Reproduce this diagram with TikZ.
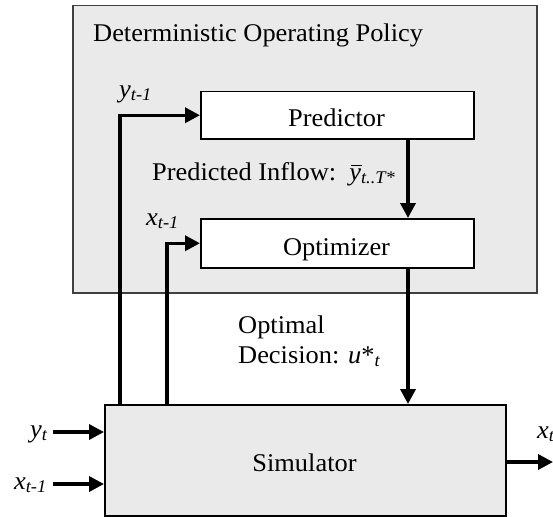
\documentclass[tikz,border=0pt]{standalone}
\usepackage{fontspec}
\setmainfont[FakeStretch=1.035]{Liberation Serif}
\usetikzlibrary{arrows.meta,calc}
\definecolor{panel}{HTML}{EAEAEA}
\newcommand\ybarsym{\makebox[0pt][l]{\hspace{0.08em}\rule[0.55em]{0.42em}{0.05em}}\textit{y}}
\begin{document}
\begin{tikzpicture}[x=1pt,y=-1pt,
  font=\fontsize{25.5}{30}\selectfont,
  panelbox/.style={draw=black!75, line width=1.5pt, fill=panel, inner sep=0pt, anchor=north west},
  whitebox/.style={draw=black, line width=1.5pt, fill=white, inner sep=0pt, anchor=north west},
  flow/.style={line width=3.5pt, -{Triangle[length=15pt,width=15pt]}},
  txt/.style={inner sep=0pt, anchor=base west},
  ctxt/.style={inner sep=0pt, anchor=base},
  rtxt/.style={inner sep=0pt, anchor=base east},
]
\useasboundingbox (0,0) rectangle (553,516);
% boxes
\node[panelbox, minimum width=464pt, minimum height=287pt] (policy) at (72,5) {};
\node[whitebox, minimum width=273pt, minimum height=47pt] (pred) at (200,91) {};
\node[whitebox, minimum width=273pt, minimum height=49pt] (opt) at (200,218) {};
\node[panelbox, draw=black, minimum width=401pt, minimum height=111pt] (sim) at (104,404) {};
% box texts
\node[txt] (title) at (93,42) {Deterministic Operating Policy};
\node[ctxt] (predtxt) at (336.5,126) {Predictor};
\node[ctxt] (opttxt) at (336.5,255) {Optimizer};
\node[ctxt] (simtxt) at (304.5,471) {Simulator};
% connectors
\draw[flow] ($(sim.north west)+(16,0)$) |- (pred.west);
\draw[flow] ($(sim.north west)+(63,0)$) |- (opt.west);
\draw[flow] ($(pred.south west)+(208,0)$) -- ($(opt.north west)+(208,0)$);
\draw[flow] ($(opt.south west)+(208,0)$) -- ($(sim.north west)+(304,0)$);
\coordinate (yin) at (53,432);
\coordinate (xin) at (53,484);
\coordinate (xout) at (553,462);
\draw[flow] (yin) -- (yin -| sim.west);
\draw[flow] (xin) -- (xin -| sim.west);
\draw[flow] (sim.east |- xout) -- (xout);
% labels
\node[txt] (lyprev) at (119,97) {\textit{y}\textsubscript{\textit{t-1}}};
\node[txt] (lxprev) at (146,225) {\textit{x}\textsubscript{\textit{t-1}}};
\node[txt] (lpred) at (152,180) {Predicted Inflow:\ \ \ybarsym\textsubscript{\textit{t..T*}}};
\node[txt] (lopt1) at (238,333) {Optimal};
\node[txt] (lopt2) at (238,363) {Decision: \textit{u}*\textsubscript{\textit{t}}};
\node[rtxt] (lyin) at (48,437) {\textit{y}\textsubscript{\textit{t}}};
\node[rtxt] (lxin) at (47,489) {\textit{x}\textsubscript{\textit{t-1}}};
\node[txt] (lxout) at (537,438) {\textit{x}\textsubscript{\textit{t}}};
\end{tikzpicture}
\end{document}
